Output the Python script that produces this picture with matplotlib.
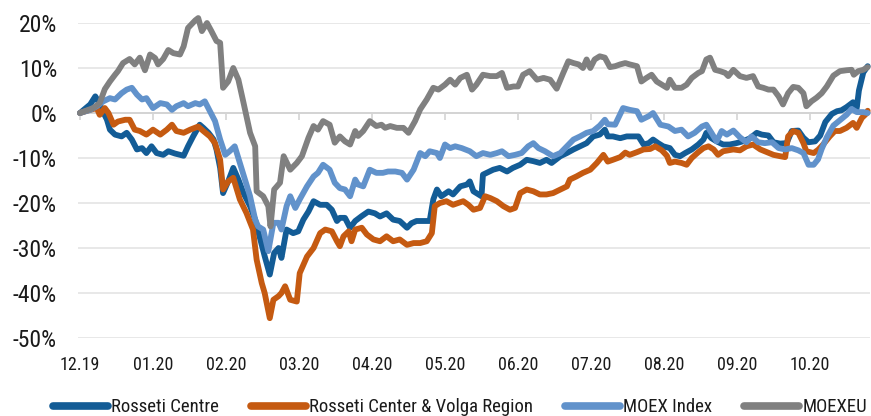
import matplotlib
matplotlib.use('Agg')
import matplotlib.pyplot as plt
import matplotlib.transforms as mtransforms

plt.rcParams['font.family'] = ['Roboto Condensed', 'Barlow Semi Condensed', 'Archivo Narrow',
                               'PT Sans Narrow', 'Liberation Sans Narrow', 'DejaVu Sans']

# ---- data (time in months since 01.12.2019, values in %) ----
month_labels = ['12.19', '01.20', '02.20', '03.20', '04.20', '05.20',
                '06.20', '07.20', '08.20', '09.20', '10.20']
series_names = ['Rosseti Centre', 'Rosseti Center & Volga Region',
                'MOEX Index', 'MOEXEU']

t_centre = [0.00, 0.14, 0.21, 0.25, 0.30, 0.37, 0.41, 0.48, 0.57, 0.64, 0.71, 0.78, 0.85, 0.91,
            0.98, 1.05, 1.14, 1.21, 1.30, 1.42, 1.48, 1.55, 1.64, 1.69, 1.76, 1.83, 1.87, 1.92,
            1.96, 2.03, 2.10, 2.17, 2.24, 2.33, 2.40, 2.47, 2.53, 2.60, 2.66, 2.72, 2.76, 2.83,
            2.92, 2.99, 3.06, 3.13, 3.20, 3.29, 3.38, 3.45, 3.52, 3.56, 3.63, 3.70, 3.77, 3.86,
            3.95, 4.04, 4.11, 4.20, 4.29, 4.38, 4.48, 4.54, 4.61, 4.70, 4.79, 4.84, 4.89, 4.95,
            5.05, 5.11, 5.21, 5.30, 5.34, 5.39, 5.50, 5.52, 5.57, 5.66, 5.75, 5.85, 5.93, 6.03,
            6.12, 6.21, 6.30, 6.39, 6.46, 6.58, 6.67, 6.76, 6.85, 6.94, 7.03, 7.12, 7.19, 7.23,
            7.30, 7.40, 7.49, 7.58, 7.65, 7.72, 7.79, 7.85, 7.92, 7.99, 8.08, 8.15, 8.22, 8.29,
            8.38, 8.47, 8.54, 8.58, 8.65, 8.72, 8.81, 8.90, 8.99, 9.08, 9.18, 9.27, 9.34, 9.43,
            9.50, 9.59, 9.68, 9.75, 9.84, 9.91, 9.98, 10.07, 10.14, 10.21, 10.30, 10.37, 10.43,
            10.50, 10.59, 10.64, 10.67, 10.73, 10.79]
v_centre = [0.0, 1.9, 3.7, 2.6, 0.8, -1.5, -3.7, -4.8, -5.2, -4.4, -5.9, -8.1, -7.8, -8.9,
            -7.4, -8.9, -9.3, -8.5, -9.0, -9.5, -7.4, -5.2, -2.6, -3.3, -4.4, -5.9, -8.1, -12.2,
            -17.8, -15.2, -12.2, -14.8, -17.8, -20.7, -23.7, -28.1, -31.8, -35.9, -31.1, -30.0, -32.2, -25.9,
            -26.7, -26.3, -23.7, -21.9, -19.6, -20.4, -20.4, -21.5, -24.0, -23.3, -23.3, -25.5, -24.0, -22.9,
            -21.9, -22.3, -23.0, -22.3, -23.7, -24.0, -25.5, -24.5, -24.0, -24.0, -24.0, -19.2, -17.0, -18.5,
            -17.4, -18.1, -16.3, -15.9, -15.2, -17.4, -18.5, -13.7, -13.3, -12.6, -12.2, -13.0, -12.2, -11.5,
            -10.4, -10.7, -11.1, -10.4, -11.1, -9.6, -8.9, -8.1, -7.4, -6.7, -5.2, -4.8, -3.7, -5.2,
            -5.2, -5.6, -5.2, -5.2, -5.2, -7.0, -6.7, -5.9, -6.7, -7.4, -7.8, -9.3, -9.6, -8.9,
            -8.1, -7.0, -5.9, -4.4, -5.6, -6.3, -7.0, -7.0, -6.7, -6.3, -5.6, -4.4, -4.8, -5.0,
            -6.5, -6.8, -6.7, -4.0, -3.9, -5.5, -6.5, -6.3, -5.0, -2.0, -0.2, 0.4, 0.6,
            1.3, 2.4, 1.1, 5.0, 9.0, 10.4]

t_volga = [0.00, 0.14, 0.23, 0.27, 0.34, 0.39, 0.46, 0.52, 0.62, 0.68, 0.75, 0.82, 0.91, 1.00,
           1.10, 1.19, 1.26, 1.32, 1.42, 1.51, 1.62, 1.69, 1.78, 1.85, 1.92, 1.96, 2.03, 2.10,
           2.19, 2.28, 2.37, 2.42, 2.49, 2.53, 2.60, 2.65, 2.72, 2.76, 2.81, 2.88, 2.97, 3.01,
           3.11, 3.20, 3.29, 3.36, 3.45, 3.52, 3.56, 3.61, 3.68, 3.72, 3.77, 3.86, 3.93, 4.02,
           4.11, 4.20, 4.29, 4.38, 4.48, 4.57, 4.66, 4.75, 4.82, 4.86, 4.93, 5.02, 5.11, 5.18,
           5.25, 5.32, 5.39, 5.48, 5.55, 5.62, 5.71, 5.80, 5.89, 5.96, 6.03, 6.12, 6.21, 6.30,
           6.39, 6.48, 6.58, 6.67, 6.71, 6.80, 6.89, 6.99, 7.08, 7.17, 7.23, 7.30, 7.40, 7.47,
           7.53, 7.63, 7.72, 7.81, 7.88, 7.97, 8.04, 8.08, 8.15, 8.24, 8.31, 8.38, 8.47, 8.54,
           8.61, 8.68, 8.74, 8.81, 8.95, 9.04, 9.13, 9.22, 9.32, 9.41, 9.50, 9.59, 9.66, 9.70,
           9.77, 9.84, 9.91, 9.95, 10.05, 10.11, 10.18, 10.27, 10.34, 10.41, 10.50, 10.59, 10.64,
           10.71, 10.78, 10.79]
v_volga = [0.0, 0.7, 1.1, -0.4, 1.1, 0.0, -2.6, -1.9, -1.5, -1.5, -3.7, -4.0, -4.8, -3.7,
           -4.8, -3.7, -2.6, -4.0, -4.4, -3.7, -3.0, -4.0, -5.2, -6.7, -10.4, -17.0, -15.2, -14.4,
           -19.2, -22.2, -25.9, -32.6, -37.8, -40.0, -45.6, -41.5, -40.7, -40.0, -38.5, -41.5, -41.9, -35.6,
           -31.9, -30.0, -26.7, -25.9, -26.3, -28.5, -29.6, -27.4, -26.3, -28.5, -25.9, -25.5, -27.0, -28.1,
           -28.5, -27.4, -28.5, -28.1, -29.3, -28.9, -28.9, -28.5, -26.7, -20.7, -20.0, -19.6, -20.4, -20.0,
           -19.6, -20.4, -21.5, -21.1, -18.5, -18.9, -19.6, -20.7, -21.5, -21.1, -17.8, -17.0, -17.4, -18.1,
           -18.1, -17.8, -17.0, -16.3, -14.8, -14.1, -13.3, -12.6, -11.1, -9.3, -10.8, -10.4, -9.8, -8.8,
           -9.3, -8.7, -8.1, -8.0, -7.4, -8.3, -9.5, -11.1, -10.8, -11.1, -11.5, -10.0, -8.7, -7.8,
           -7.4, -8.1, -9.3, -8.5, -8.1, -8.3, -7.4, -7.0, -8.1, -8.7, -9.3, -9.6, -9.8, -5.2,
           -4.0, -4.4, -6.7, -8.5, -8.9, -8.2, -7.0, -5.2, -4.0, -4.0, -3.3, -2.2, -3.3,
           -1.1, 0.0, 0.5]

t_moex = [0.00, 0.14, 0.23, 0.32, 0.41, 0.48, 0.57, 0.64, 0.71, 0.78, 0.85, 0.91, 1.00, 1.10,
          1.19, 1.26, 1.32, 1.42, 1.48, 1.58, 1.64, 1.71, 1.78, 1.85, 1.92, 1.99, 2.05, 2.12,
          2.19, 2.26, 2.33, 2.40, 2.44, 2.51, 2.58, 2.65, 2.72, 2.76, 2.83, 2.88, 2.95, 3.01,
          3.11, 3.20, 3.26, 3.33, 3.42, 3.49, 3.56, 3.63, 3.70, 3.77, 3.81, 3.88, 3.97, 4.06,
          4.15, 4.22, 4.32, 4.41, 4.48, 4.57, 4.66, 4.73, 4.79, 4.89, 4.93, 5.00, 5.07, 5.14,
          5.23, 5.34, 5.43, 5.52, 5.62, 5.71, 5.78, 5.87, 5.96, 6.05, 6.14, 6.21, 6.28, 6.37,
          6.48, 6.58, 6.67, 6.76, 6.85, 6.94, 7.03, 7.12, 7.19, 7.23, 7.33, 7.44, 7.53, 7.63,
          7.69, 7.79, 7.85, 7.95, 8.06, 8.15, 8.24, 8.33, 8.42, 8.52, 8.58, 8.65, 8.72, 8.79,
          8.86, 8.95, 9.04, 9.13, 9.20, 9.29, 9.38, 9.48, 9.57, 9.66, 9.75, 9.84, 9.91, 9.98,
          10.05, 10.11, 10.16, 10.23, 10.32, 10.41, 10.50, 10.57, 10.64, 10.73, 10.79]
v_moex = [0.0, 0.7, 1.5, 2.6, 3.3, 3.0, 4.4, 5.2, 5.6, 4.1, 3.0, 3.3, 1.1, 2.2,
          1.9, 0.7, 1.5, 2.2, 1.5, 2.2, 1.9, 2.6, 0.4, -1.8, -5.9, -9.3, -8.5, -7.4,
          -11.1, -14.8, -18.5, -23.7, -25.2, -25.9, -30.7, -24.4, -24.4, -25.9, -20.7, -18.5, -21.1, -19.2,
          -16.3, -14.1, -13.3, -11.5, -12.6, -15.5, -16.7, -17.0, -18.5, -14.8, -15.9, -16.3, -12.6, -13.3,
          -13.3, -13.0, -13.0, -13.3, -14.8, -12.6, -8.9, -9.6, -8.5, -8.9, -10.0, -7.0, -7.8, -7.4,
          -7.8, -8.5, -9.6, -8.9, -9.3, -8.9, -8.5, -9.6, -9.3, -8.9, -7.4, -6.7, -7.8, -8.5,
          -9.6, -8.9, -7.4, -5.9, -5.2, -4.4, -4.0, -2.8, -1.5, -2.5, -2.6, 1.1, 0.7, 0.4,
          -1.5, -0.7, 0.0, -2.6, -3.0, -4.0, -3.7, -5.2, -4.4, -3.0, -2.6, -4.4, -6.3, -4.0,
          -4.8, -3.9, -5.4, -6.5, -5.2, -6.5, -6.7, -6.5, -7.8, -8.1, -7.8, -8.3, -8.9, -11.5,
          -11.5, -10.3, -8.0, -5.4, -2.8, -1.6, -0.4, 0.9, 0.2, 0.2, 0.0]

t_moexeu = [0.00, 0.18, 0.27, 0.34, 0.41, 0.48, 0.52, 0.59, 0.68, 0.75, 0.82, 0.89, 0.96, 1.03,
            1.07, 1.14, 1.21, 1.28, 1.37, 1.42, 1.48, 1.58, 1.62, 1.67, 1.74, 1.80, 1.87, 1.92,
            1.96, 2.03, 2.10, 2.17, 2.24, 2.33, 2.40, 2.42, 2.51, 2.58, 2.61, 2.66, 2.74, 2.79,
            2.88, 2.97, 3.04, 3.13, 3.20, 3.26, 3.33, 3.42, 3.49, 3.56, 3.63, 3.70, 3.77, 3.81,
            3.88, 3.97, 4.06, 4.13, 4.18, 4.25, 4.34, 4.43, 4.50, 4.59, 4.66, 4.75, 4.84, 4.91,
            5.00, 5.07, 5.14, 5.21, 5.30, 5.37, 5.43, 5.52, 5.62, 5.71, 5.78, 5.85, 5.94, 6.00,
            6.07, 6.16, 6.26, 6.35, 6.44, 6.53, 6.62, 6.69, 6.76, 6.83, 6.89, 6.94, 6.99, 7.05,
            7.12, 7.19, 7.26, 7.33, 7.40, 7.47, 7.53, 7.63, 7.69, 7.76, 7.83, 7.90, 7.97, 8.04,
            8.08, 8.15, 8.24, 8.31, 8.38, 8.47, 8.52, 8.58, 8.63, 8.70, 8.77, 8.84, 8.88, 8.95,
            9.04, 9.13, 9.22, 9.29, 9.36, 9.43, 9.50, 9.57, 9.63, 9.70, 9.77, 9.84, 9.91, 9.95,
            10.02, 10.09, 10.16, 10.23, 10.32, 10.41, 10.50, 10.57, 10.60, 10.66, 10.73, 10.79]
v_moexeu = [0.0, 1.1, 2.2, 5.3, 7.0, 8.5, 9.3, 11.1, 12.0, 10.8, 12.3, 9.5, 13.0, 12.2,
            10.8, 12.0, 14.0, 13.3, 13.0, 14.8, 18.9, 20.6, 21.1, 18.2, 20.0, 18.2, 16.0, 15.6,
            5.6, 7.0, 10.0, 7.4, 2.3, -4.4, -7.4, -17.4, -18.5, -20.7, -25.2, -17.0, -15.5, -9.6,
            -12.6, -11.1, -9.6, -5.5, -2.9, -3.7, -1.8, -2.6, -6.6, -5.2, -6.3, -7.0, -4.0, -5.1,
            -4.0, -1.8, -2.9, -2.6, -3.3, -2.9, -3.3, -3.3, -4.4, -1.8, 0.8, 3.0, 5.6, 5.2,
            6.3, 7.4, 6.3, 7.8, 8.5, 5.2, 6.3, 8.5, 8.2, 8.2, 8.9, 5.6, 5.9, 5.9,
            8.5, 9.3, 7.4, 7.8, 7.4, 5.4, 8.9, 11.5, 11.1, 10.8, 10.0, 11.9, 10.0, 11.9,
            12.6, 12.3, 10.2, 10.4, 10.8, 11.1, 10.8, 10.4, 7.0, 7.8, 8.5, 7.0, 6.3, 5.6,
            7.4, 5.6, 5.6, 6.3, 7.8, 8.9, 9.3, 11.9, 12.3, 9.6, 9.3, 8.9, 8.2, 9.6,
            8.2, 7.8, 8.2, 5.9, 5.6, 5.2, 5.2, 3.7, 1.9, 4.4, 5.8, 5.6, 4.4, 1.5,
            2.6, 3.4, 4.4, 5.9, 8.3, 9.3, 9.5, 9.6, 8.5, 9.3, 9.6, 10.2]

series_t = [t_centre, t_volga, t_moex, t_moexeu]
series_v = [v_centre, v_volga, v_moex, v_moexeu]
colors = ['#135C96', '#C55A11', '#6192CB', '#808080']
y_ticks = [-50, -40, -30, -20, -10, 0, 10, 20]

# ---- figure ----
fig = plt.figure(figsize=(8.71, 4.16), dpi=100)
ax = fig.add_axes([0.0893, 0.1875, 0.9094, 0.7572])

lines = []
for t, v, c, name in zip(series_t, series_v, colors, series_names):
    ln, = ax.plot(t, v, color=c, lw=4.2, solid_joinstyle='round',
                  solid_capstyle='round', clip_on=False, label=name, zorder=3)
    lines.append(ln)

ax.set_ylim(-50, 20)
ax.set_xlim(-0.03, 10.82)
ax.set_yticks(y_ticks)
ax.set_yticklabels([f'{v}%' for v in y_ticks])
ax.tick_params(axis='y', length=0, pad=15, labelsize=17, labelcolor='#1a1a1a')
ax.yaxis.grid(True, color='#E8E8E8', lw=1.4, zorder=0)
ax.set_axisbelow(True)

for s in ['top', 'right', 'left']:
    ax.spines[s].set_visible(False)
ax.spines['bottom'].set_position(('data', 0))
ax.spines['bottom'].set_color('#D4D4D4')
ax.spines['bottom'].set_linewidth(1.4)
ax.spines['bottom'].set_zorder(1)

month_pos = list(range(len(month_labels)))
ax.set_xticks(month_pos)
ax.tick_params(axis='x', direction='out', length=5, width=1.2, color='#D4D4D4',
               labelbottom=False)
trans = mtransforms.blended_transform_factory(ax.transData, ax.transAxes)
for p, lab in zip(month_pos, month_labels):
    ax.text(p, -0.085, lab, transform=trans, ha='center', va='center',
            fontsize=13, color='#1a1a1a')

leg = fig.legend(lines, series_names, loc='center', bbox_to_anchor=(0.528, 0.021),
                 ncol=4, frameon=False, fontsize=13.5, handlelength=2.93,
                 handletextpad=0.16, columnspacing=1.72, borderpad=0)
for l in leg.get_lines():
    l.set_linewidth(5.5)
    l.set_solid_capstyle('round')
for txt in leg.get_texts():
    txt.set_color('#1a1a1a')

fig.savefig('out.png', dpi=100)
